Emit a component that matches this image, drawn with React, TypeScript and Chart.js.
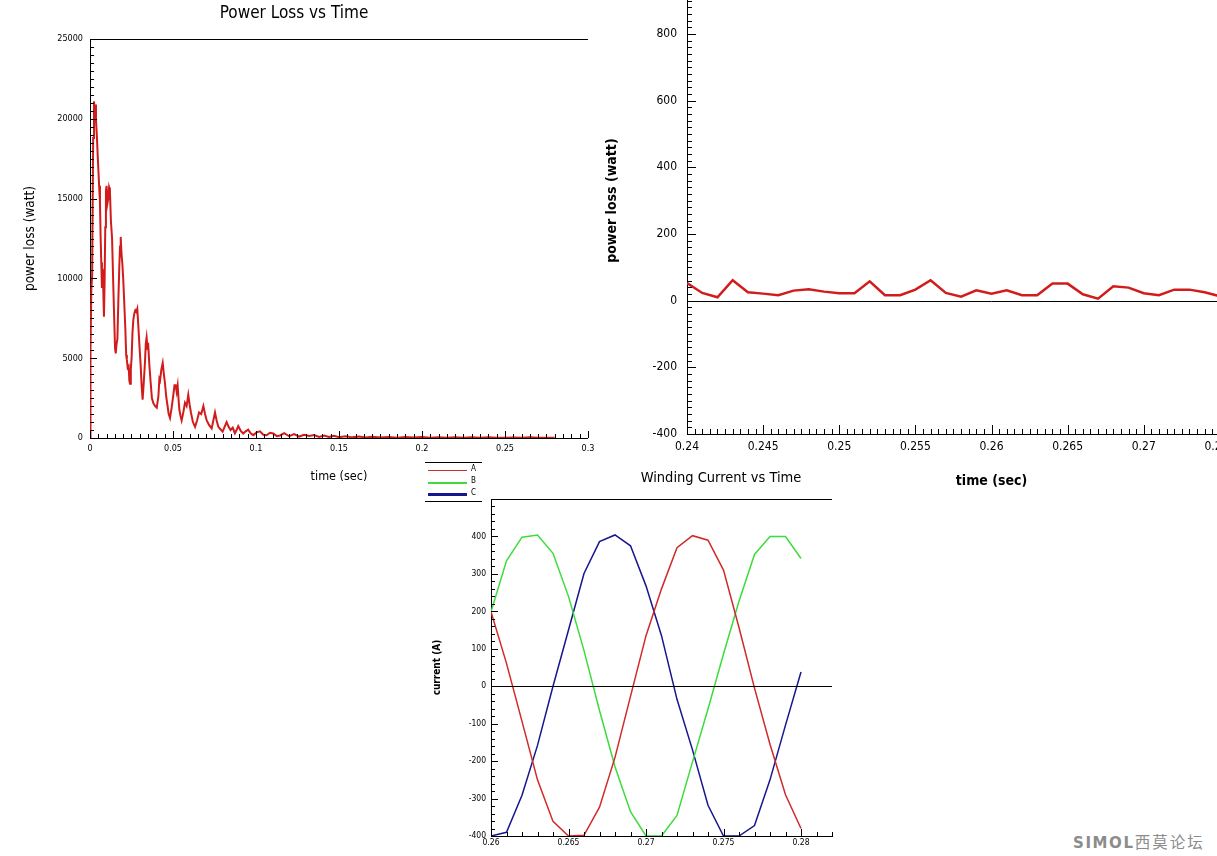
import React, { useEffect, useRef } from 'react';
import { Chart, registerables } from 'chart.js';

Chart.register(...registerables);

// ---------------- data ----------------
// Chart 1: Power Loss vs Time (full run)
const lossTime = [
  0, 0.0003, 0.0008, 0.0013, 0.0019, 0.0024, 0.0028, 0.0032, 0.0036, 0.0041,
  0.0046, 0.005, 0.0055, 0.006, 0.0064, 0.0068, 0.0072, 0.0076, 0.008, 0.0084,
  0.0088, 0.0092, 0.0096, 0.01, 0.0105, 0.011, 0.0115, 0.012, 0.0126, 0.0133,
  0.014, 0.0146, 0.0151, 0.0155, 0.016, 0.0165, 0.0171, 0.0177, 0.0181, 0.0185,
  0.019, 0.0195, 0.02, 0.0205, 0.0213, 0.0218, 0.0222, 0.0227, 0.0233, 0.0237,
  0.0241, 0.0246, 0.0251, 0.0256, 0.0261, 0.0267, 0.0273, 0.0279, 0.0285, 0.0293,
  0.0299, 0.0305, 0.0311, 0.0317, 0.0324, 0.0331, 0.0336, 0.0341, 0.0346, 0.0351,
  0.0358, 0.0366, 0.0373, 0.0381, 0.0392, 0.0402, 0.0412, 0.0418, 0.0422, 0.043,
  0.0438, 0.0445, 0.0452, 0.0459, 0.0466, 0.0474, 0.0482, 0.0492, 0.0502, 0.0509,
  0.0516, 0.0522, 0.0528, 0.0533, 0.0538, 0.0545, 0.0552, 0.0562, 0.0572, 0.0582,
  0.0592, 0.06, 0.0608, 0.062, 0.0633, 0.0645, 0.0657, 0.067, 0.0683, 0.0693,
  0.0703, 0.0718, 0.0733, 0.0743, 0.0753, 0.0763, 0.0773, 0.0786, 0.0799, 0.0811,
  0.0823, 0.0835, 0.0847, 0.086, 0.0873, 0.0883, 0.0893, 0.0908, 0.0923, 0.0938,
  0.0953, 0.0968, 0.0984, 0.1004, 0.1024, 0.1044, 0.1064, 0.1084, 0.1104, 0.1125,
  0.1145, 0.117, 0.12, 0.123, 0.126, 0.129, 0.132, 0.135, 0.138, 0.141,
  0.144, 0.147, 0.15, 0.154, 0.158, 0.162, 0.166, 0.17, 0.175, 0.18,
  0.185, 0.19, 0.195, 0.2, 0.205, 0.21, 0.215, 0.22, 0.225, 0.23,
  0.235, 0.24, 0.245, 0.25, 0.255, 0.26, 0.265, 0.27, 0.275, 0.28,
];
const lossWatt = [
  0, 5600, 9300, 10200, 18800, 21100, 20500, 20900, 19900, 19000,
  17800, 16900, 15800, 14800, 12600, 11000, 9400, 10600, 9300, 7600,
  9800, 13200, 15500, 15800, 14700, 15000, 15700, 15500, 13600, 12500,
  9700, 7400, 5600, 5300, 5900, 6200, 8700, 10900, 12000, 12600,
  11500, 10900, 10000, 8800, 6800, 5200, 4900, 4400, 4500, 3600,
  3400, 4300, 5100, 6600, 7400, 7800, 8000, 7900, 8100, 6700,
  5600, 4600, 3300, 2400, 3500, 4700, 5900, 6300, 5700, 5800,
  4500, 3400, 2500, 2200, 2000, 1900, 2600, 3700, 3600, 4300,
  4700, 4000, 3400, 2600, 2100, 1500, 1250, 1900, 2700, 3300,
  3300, 2900, 3300, 2500, 1800, 1400, 1100, 1600, 2200, 2000,
  2700, 2100, 1600, 1000, 700, 1100, 1600, 1500, 2000, 1500,
  1100, 800, 600, 1100, 1600, 1100, 700, 550, 400, 700,
  1000, 700, 500, 650, 300, 500, 750, 450, 280, 420,
  520, 300, 180, 350, 420, 200, 170, 330, 280, 120,
  160, 300, 110, 240, 90, 200, 130, 180, 70, 160,
  60, 140, 50, 110, 40, 90, 30, 80, 25, 70,
  20, 60, 25, 55, 20, 50, 15, 45, 20, 50,
  15, 53, 21, 22, 33, 21, 51, 22, 13, 20,
];
const lossXTicks = [0, 0.05, 0.1, 0.15, 0.2, 0.25, 0.3];
const lossYTicks = [0, 5000, 10000, 15000, 20000, 25000];

// Chart 2: zoomed power loss
const zoomTime = [
  0.24, 0.241, 0.242, 0.243, 0.244, 0.245, 0.246, 0.247, 0.248, 0.249,
  0.25, 0.251, 0.252, 0.253, 0.254, 0.255, 0.256, 0.257, 0.258, 0.259,
  0.26, 0.261, 0.262, 0.263, 0.264, 0.265, 0.266, 0.267, 0.268, 0.269,
  0.27, 0.271, 0.272, 0.273, 0.274, 0.275,
];
const zoomWatt = [
  53, 23, 10, 61, 25, 21, 16, 30, 34, 27,
  22, 22, 58, 16, 16, 33, 61, 23, 12, 31,
  21, 31, 16, 16, 51, 51, 19, 6, 43, 39,
  22, 16, 33, 33, 25, 13,
];
const zoomXTicks = [0.24, 0.245, 0.25, 0.255, 0.26, 0.265, 0.27, 0.275, 0.28];
const zoomYTicks = [-400, -200, 0, 200, 400, 600, 800, 1000];

// Chart 3: Winding Current vs Time
const currentTime = [
  0.26, 0.261, 0.262, 0.263, 0.264, 0.265, 0.266, 0.267, 0.268, 0.269,
  0.27, 0.271, 0.272, 0.273, 0.274, 0.275, 0.276, 0.277, 0.278, 0.279, 0.28,
];
const phaseNames = ['A', 'B', 'C'];
const phaseA = [199, 61, -94, -250, -361, -400, -398, -323, -190, -27, 135, 260, 370, 402, 390, 310, 157, -5, -155, -290, -380];
const phaseB = [199, 335, 398, 404, 355, 240, 95, -65, -215, -335, -400, -400, -345, -202, -61, 86, 227, 352, 400, 400, 341];
const phaseC = [-400, -390, -291, -158, 0, 150, 301, 386, 404, 375, 268, 135, -35, -170, -318, -400, -400, -372, -250, -104, 38];
const phaseValues = [phaseA, phaseB, phaseC];
const currentXTicks = [0.26, 0.265, 0.27, 0.275, 0.28];
const currentYTicks = [-400, -300, -200, -100, 0, 100, 200, 300, 400];

// ---------------- styles ----------------
const FONT = "'Liberation Sans Narrow', 'DejaVu Sans Condensed', 'Liberation Sans', Arial, sans-serif";
const BLACK = '#000000';
const LOSS_RED = '#d21c1c';
const PHASE_COLORS = ['#d02a2a', '#3ddc3d', '#16168f'];
const PHASE_WIDTHS = [1.5, 1.5, 1.5];
const LEGEND_WIDTHS = [1, 1.5, 3];

const innerTicksPlugin = {
  id: 'innerTicks',
  afterDatasetsDraw(chart: any, _args: any, opts: any) {
    if (!opts || !opts.enabled) return;
    const { ctx, chartArea: a, scales } = chart;
    const xs = scales.x;
    const ys = scales.y;
    const isMajor = (v: number, m: number) => Math.abs(v / m - Math.round(v / m)) < 1e-6;
    ctx.save();
    ctx.strokeStyle = BLACK;
    ctx.lineWidth = 1;
    ctx.beginPath();
    const nx = Math.round((xs.max - xs.min) / opts.xMinor);
    for (let i = 0; i <= nx; i++) {
      const v = xs.min + i * opts.xMinor;
      const px = Math.round(xs.getPixelForValue(v)) + 0.5;
      const len = isMajor(v, opts.xMajor) ? opts.majorLen : opts.minorLen;
      ctx.moveTo(px, a.bottom);
      ctx.lineTo(px, a.bottom - len);
    }
    const ny = Math.round((ys.max - ys.min) / opts.yMinor);
    for (let i = 0; i <= ny; i++) {
      const v = ys.min + i * opts.yMinor;
      const py = Math.round(ys.getPixelForValue(v)) + 0.5;
      const len = isMajor(v, opts.yMajor) ? opts.majorLen : opts.minorLen;
      ctx.moveTo(a.left, py);
      ctx.lineTo(a.left + len, py);
    }
    if (opts.zeroLine) {
      const zy = Math.round(ys.getPixelForValue(0)) + 0.5;
      ctx.moveTo(a.left, zy);
      ctx.lineTo(a.right, zy);
    }
    if (opts.topLine) {
      const ty = Math.round(a.top) + 0.5;
      ctx.moveTo(a.left, ty);
      ctx.lineTo(a.right, ty);
    }
    ctx.stroke();
    ctx.restore();
  },
};

const fmt = (v: any) => String(v);

function axis(o: any) {
  return {
    type: 'linear',
    min: o.min,
    max: o.max,
    afterBuildTicks: (s: any) => {
      s.ticks = o.ticks.map((value: number) => ({ value }));
    },
    afterFit: (s: any) => {
      if (o.width !== undefined) s.width = o.width;
      if (o.height !== undefined) s.height = o.height;
    },
    grid: { display: false, drawTicks: false },
    border: { display: true, color: BLACK, width: 1 },
    ticks: {
      color: BLACK,
      font: { family: FONT, size: o.tickSize, lineHeight: 1.2 },
      padding: o.tickPad,
      maxRotation: 0,
      minRotation: 0,
      autoSkip: false,
      includeBounds: false,
      callback: fmt,
    },
    title: o.title
      ? {
          display: true,
          text: o.title,
          color: BLACK,
          font: { family: FONT, size: o.titleSize, weight: o.titleWeight || 'normal', lineHeight: 1.2 },
          padding: o.titlePad,
        }
      : { display: false },
  };
}

const baseOptions = (padding: any, plugins: any, scales: any) => ({
  animation: false,
  responsive: false,
  maintainAspectRatio: false,
  events: [],
  layout: { padding },
  plugins: { legend: { display: false }, tooltip: { enabled: false }, ...plugins },
  scales,
  elements: { point: { radius: 0 }, line: { tension: 0 } },
});

const powerLossConfig = () => ({
  type: 'line',
  data: {
    datasets: [
      {
        label: 'power loss',
        data: lossTime.map((t, i) => ({ x: t, y: lossWatt[i] })),
        borderColor: LOSS_RED,
        borderWidth: 2,
        pointRadius: 0,
        fill: false,
      },
    ],
  },
  options: baseOptions(
    { left: 0, right: 12, top: 0, bottom: 0 },
    {
      title: {
        display: true,
        text: 'Power Loss vs Time',
        color: BLACK,
        font: { family: FONT, size: 17, weight: 'normal', lineHeight: 1.2 },
        padding: { top: 3.6, bottom: 15 },
      },
      innerTicks: { enabled: true, xMinor: 0.005, xMajor: 0.05, yMinor: 500, yMajor: 5000, minorLen: 4, majorLen: 7, topLine: true, zeroLine: false },
    },
    {
      x: axis({ min: 0, max: 0.3, ticks: lossXTicks, height: 62, tickSize: 9, tickPad: 5.6, title: 'time (sec)', titleSize: 12.5, titlePad: { top: 0, bottom: 15.5 } }),
      y: axis({ min: 0, max: 25000, ticks: lossYTicks, width: 90, tickSize: 9, tickPad: 7, title: 'power loss (watt)', titleSize: 13.5, titlePad: { top: 22, bottom: 0 } }),
    }
  ),
  plugins: [innerTicksPlugin],
});

const zoomConfig = () => ({
  type: 'line',
  data: {
    datasets: [
      {
        label: 'power loss',
        data: zoomTime.map((t, i) => ({ x: t, y: zoomWatt[i] })),
        borderColor: LOSS_RED,
        borderWidth: 2.5,
        pointRadius: 0,
        fill: false,
      },
    ],
  },
  options: baseOptions(
    { left: 0, right: 24, top: 13.7, bottom: 0 },
    {
      innerTicks: { enabled: true, xMinor: 0.0005, xMajor: 0.005, yMinor: 20, yMajor: 200, minorLen: 5, majorLen: 9, topLine: false, zeroLine: true },
    },
    {
      x: axis({ min: 0.24, max: 0.28, ticks: zoomXTicks, height: 66, tickSize: 12, tickPad: 5.8, title: 'time (sec)', titleSize: 14, titleWeight: 'bold', titlePad: { top: 0, bottom: 10.6 } }),
      y: axis({ min: -400, max: 1000, ticks: zoomYTicks, width: 87, tickSize: 12, tickPad: 10, title: 'power loss (watt)', titleSize: 14, titleWeight: 'bold', titlePad: { top: 3.6, bottom: 0 } }),
    }
  ),
  plugins: [innerTicksPlugin],
});

const currentConfig = () => ({
  type: 'line',
  data: {
    datasets: phaseValues.map((vals, k) => ({
      label: phaseNames[k],
      data: currentTime.map((t, i) => ({ x: t, y: vals[i] })),
      borderColor: PHASE_COLORS[k],
      borderWidth: PHASE_WIDTHS[k],
      pointRadius: 0,
      fill: false,
    })),
  },
  options: baseOptions(
    { left: 0, right: 8, top: 59, bottom: 0 },
    {
      innerTicks: { enabled: true, xMinor: 0.001, xMajor: 0.005, yMinor: 20, yMajor: 100, minorLen: 4, majorLen: 7, topLine: true, zeroLine: true },
    },
    {
      x: axis({ min: 0.26, max: 0.282, ticks: currentXTicks, height: 20, tickSize: 8.5, tickPad: 1.9 }),
      y: axis({ min: -400, max: 500, ticks: currentYTicks, width: 71, tickSize: 8.5, tickPad: 5, title: 'current (A)', titleSize: 10, titleWeight: 'bold', titlePad: { top: 11, bottom: 0 } }),
    }
  ),
  plugins: [innerTicksPlugin],
});

function ChartBox({ left, top, width, height, makeConfig }: any) {
  const ref = useRef<HTMLCanvasElement | null>(null);
  useEffect(() => {
    const chart = new Chart(ref.current as HTMLCanvasElement, makeConfig() as any);
    return () => chart.destroy();
  }, []);
  return (
    <canvas
      ref={ref}
      width={width}
      height={height}
      style={{ position: 'absolute', left, top, width, height, display: 'block' }}
    />
  );
}

export default function App() {
  return (
    <div
      style={{
        position: 'absolute',
        left: 0,
        top: 0,
        width: 1217,
        height: 856,
        overflow: 'hidden',
        background: '#ffffff',
      }}
    >
      <ChartBox left={0} top={0} width={600} height={500} makeConfig={powerLossConfig} />
      <ChartBox left={600} top={-50} width={720} height={550} makeConfig={zoomConfig} />
      <ChartBox left={420} top={440} width={420} height={416} makeConfig={currentConfig} />

      <div
        style={{
          position: 'absolute',
          left: 600,
          top: 469,
          width: 242,
          textAlign: 'center',
          fontFamily: FONT,
          fontSize: 14.5,
          lineHeight: '17px',
          color: BLACK,
          whiteSpace: 'nowrap',
        }}
      >
        Winding Current vs Time
      </div>

      <div style={{ position: 'absolute', left: 425, top: 462, width: 57, height: 1, background: BLACK }} />
      {phaseNames.map((name, k) => (
        <React.Fragment key={name}>
          <div
            style={{
              position: 'absolute',
              left: 428,
              top: 470 + k * 12 - Math.floor(LEGEND_WIDTHS[k] / 2),
              width: 39,
              height: LEGEND_WIDTHS[k],
              background: PHASE_COLORS[k],
            }}
          />
          <div
            style={{
              position: 'absolute',
              left: 471,
              top: 464 + k * 12,
              fontFamily: FONT,
              fontSize: 8,
              lineHeight: '10px',
              color: BLACK,
            }}
          >
            {name}
          </div>
        </React.Fragment>
      ))}
      <div style={{ position: 'absolute', left: 425, top: 501, width: 57, height: 1, background: BLACK }} />

      <div
        style={{
          position: 'absolute',
          left: 1073,
          top: 831,
          color: '#8c8c8c',
          fontFamily: "'Noto Sans CJK SC', sans-serif",
          fontSize: 15.5,
          lineHeight: '20px',
          whiteSpace: 'nowrap',
        }}
      >
        <span style={{ fontFamily: "'DejaVu Sans', sans-serif", fontWeight: 'bold', fontSize: 15, letterSpacing: 1.6 }}>SIMOL</span>
        <span style={{ letterSpacing: 2 }}>西莫论坛</span>
      </div>
    </div>
  );
}
